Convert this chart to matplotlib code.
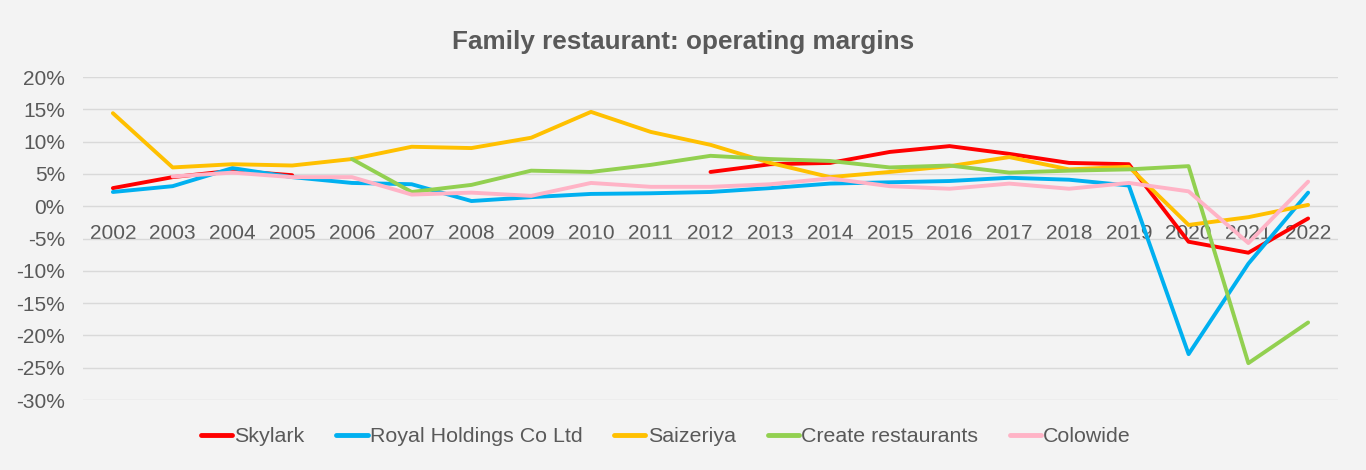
import numpy as np
import matplotlib
matplotlib.use("Agg")
import matplotlib.pyplot as plt

years = [str(y) for y in range(2002, 2023)]
nan = np.nan
skylark = [2.8, 4.5, 5.5, 4.8, nan, nan, nan, nan, nan, nan, 5.3, 6.5, 6.7, 8.4, 9.3, 8.1, 6.7, 6.5, -5.5, -7.2, -1.9]
royal = [2.2, 3.1, 5.9, 4.5, 3.6, 3.4, 0.8, 1.4, 1.9, 2.0, 2.2, 2.8, 3.5, 3.7, 3.9, 4.4, 4.1, 3.2, -22.9, -8.9, 2.1]
saizeriya = [14.4, 6.0, 6.5, 6.3, 7.3, 9.2, 9.0, 10.6, 14.6, 11.5, 9.5, 6.7, 4.5, 5.3, 6.2, 7.6, 5.7, 6.1, -2.9, -1.7, 0.2]
create = [nan, nan, nan, nan, 7.3, 2.2, 3.3, 5.5, 5.3, 6.4, 7.8, 7.3, 7.0, 6.0, 6.3, 5.2, 5.5, 5.7, 6.2, -24.3, -18.0]
colowide = [nan, 4.6, 5.2, 4.5, 4.5, 1.8, 2.1, 1.6, 3.6, 3.0, 3.0, 3.4, 4.3, 3.1, 2.7, 3.5, 2.7, 3.6, 2.3, -5.7, 3.8]

series = [
    ("Skylark", skylark, "#FF0000"),
    ("Royal Holdings Co Ltd", royal, "#00B0F0"),
    ("Saizeriya", saizeriya, "#FFC000"),
    ("Create restaurants", create, "#92D050"),
    ("Colowide", colowide, "#FFB3C6"),
]
yticks = list(range(-30, 25, 5))

plt.rcParams['font.family'] = ['Liberation Sans', 'DejaVu Sans']
txt = "#595959"
bg = "#F3F3F3"

fig = plt.figure(figsize=(13.66, 4.70), dpi=100, facecolor=bg)
ax = fig.add_axes([83/1366, 1-400/470, (1338-83)/1366, (400-77)/470])
ax.set_facecolor(bg)
x = np.arange(len(years))
for name, vals, col in series:
    ax.plot(x, np.array(vals, dtype=float), color=col, lw=2.8, label=name, solid_capstyle='round')

ax.set_xlim(-0.5, len(years) - 0.5)
ax.set_ylim(-30, 20)
ax.set_yticks(yticks)
ax.set_yticklabels([f"{v}%" for v in yticks])
ax.set_xticks(x)
ax.set_xticklabels(years)
ax.yaxis.grid(True, color="#D9D9D9", lw=1.0)
ax.set_axisbelow(True)
for s in ['top', 'right', 'left']:
    ax.spines[s].set_visible(False)
ax.spines['bottom'].set_position(('data', 0))
ax.spines['bottom'].set_visible(False)
ax.tick_params(axis='both', length=0, colors=txt, labelsize=15)
ax.tick_params(axis='x', pad=13)
ax.tick_params(axis='y', pad=13)

fig.text(0.5, 1-42/470, "Family restaurant: operating margins", ha='center', va='center',
         fontsize=18.8, fontweight='bold', color=txt)

leg = fig.legend(loc='center', bbox_to_anchor=(0.4875, 1-437/470), ncol=5, frameon=False,
                 fontsize=15.4, handlelength=1.45, handletextpad=0.1, columnspacing=1.5,
                 labelcolor=txt)
for h in leg.legend_handles:
    h.set_linewidth(3.5)
fig.savefig("out.png", dpi=100, facecolor=bg)
